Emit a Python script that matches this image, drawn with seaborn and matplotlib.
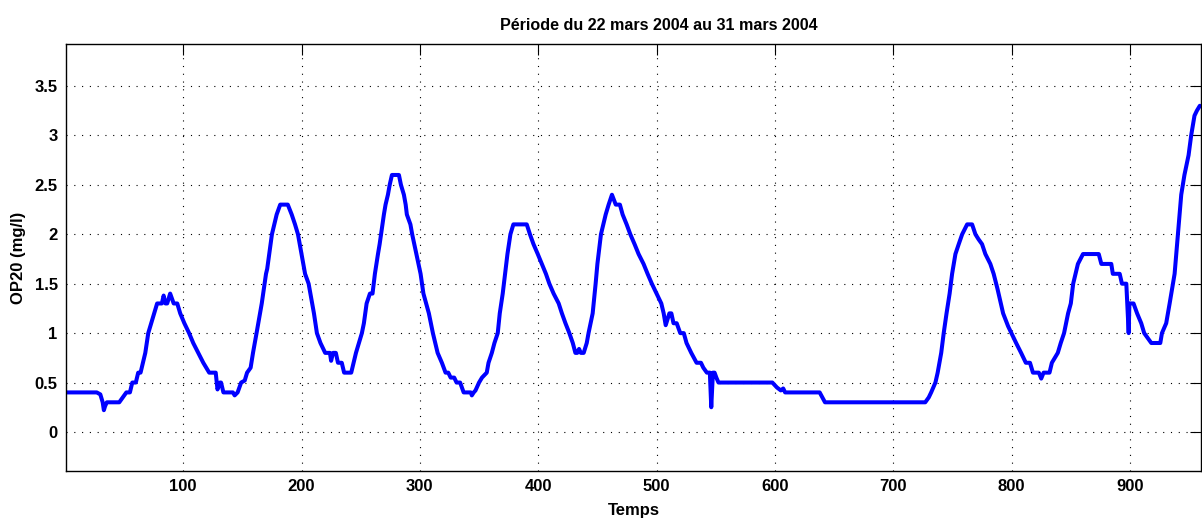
import matplotlib
matplotlib.use("Agg")
import matplotlib.pyplot as plt
import seaborn as sns
import pandas as pd

# Points (time step, OP20 in mg/l)
temps = [1, 27, 30, 32, 33, 34, 35.5, 46, 49, 52, 55, 57, 60, 62, 64, 66, 68, 70.5, 73, 75.5,
         78, 82, 83.5, 85, 86.5, 89, 90.5, 92, 95, 97.5, 101, 105, 108.5, 112.7, 117, 122, 127.5,
         129, 131, 132, 134, 142, 143.5, 146, 149, 152, 154, 157, 159, 162, 166.4, 170, 171, 175,
         179, 182, 188.4, 191.7, 194.5, 197, 200, 203, 206, 210.5, 213, 216, 220, 224, 225, 226.6,
         229, 230.8, 234, 236, 242, 244, 246, 248.5, 251, 252.7, 255, 257.8, 260, 262, 264.6, 266,
         269.6, 271, 273, 274.5, 276.4, 282.3, 284, 286.5, 288, 289, 292, 293.5, 300.6, 303, 307.6,
         311, 313, 315, 318.6, 321.7, 324, 326, 329, 331, 334, 335.5, 337, 343, 343.9, 345.5, 347,
         350, 352.5, 356.5, 358, 360.8, 363, 365.8, 367.5, 370, 372, 374, 376.5, 379, 390.3, 393,
         396, 399.6, 403, 406.5, 409.4, 413, 417.3, 420, 423, 426.3, 429.2, 431.4, 433, 434.5, 436,
         438.4, 441, 442.5, 446, 448.5, 450, 453, 457, 459.5, 462.3, 465.5, 469, 471.3, 474.7,
         477.8, 481.4, 484.8, 489, 492.4, 496, 500, 504, 506, 507.7, 510.8, 512.5, 514.3, 517, 520,
         523, 525.3, 529.3, 533.8, 537.5, 539.5, 542.5, 545, 546.2, 547.6, 549, 550.5, 552.3,
         597.8, 601.7, 605, 607, 608.6, 637.8, 642.3, 727, 730, 732, 735.6, 737.5, 739, 740.5,
         742.6, 745, 747.6, 749.7, 752.5, 755.3, 758.2, 762.4, 766.6, 769.4, 772, 775, 777.8, 782,
         784.8, 788, 792.8, 797, 799.8, 803.8, 808, 812, 815.5, 818, 823, 825, 827, 832, 834, 839,
         841.5, 844.3, 847.7, 850, 852, 854, 856, 860.3, 873.6, 875.8, 884.2, 885.5, 891.3, 893.2,
         896.9, 898.9, 899.5, 903, 906, 909.5, 912, 915, 918, 925.6, 927, 930.6, 933.5, 937.7,
         940.5, 943.3, 946, 949.5, 951.7, 954.5, 956.5, 959]
op20 = [0.4, 0.4, 0.38, 0.3, 0.22, 0.26, 0.3, 0.3, 0.35, 0.4, 0.4, 0.5, 0.5, 0.6, 0.6, 0.7, 0.8, 1.0, 1.1, 1.2,
        1.3, 1.3, 1.38, 1.3, 1.3, 1.4, 1.35, 1.3, 1.3, 1.2, 1.1, 1.0, 0.9, 0.8, 0.7, 0.6, 0.6,
        0.43, 0.5, 0.5, 0.4, 0.4, 0.37, 0.4, 0.5, 0.52, 0.6, 0.65, 0.8, 1.0, 1.3, 1.6, 1.65, 2.0,
        2.2, 2.3, 2.3, 2.2, 2.1, 2.0, 1.8, 1.6, 1.5, 1.2, 1.0, 0.9, 0.8, 0.8, 0.72, 0.8,
        0.8, 0.7, 0.7, 0.6, 0.6, 0.7, 0.8, 0.9, 1.0, 1.1, 1.3, 1.4, 1.4, 1.6, 1.8, 1.9,
        2.2, 2.3, 2.4, 2.5, 2.6, 2.6, 2.5, 2.4, 2.3, 2.2, 2.1, 2.0, 1.6, 1.4, 1.2,
        1.0, 0.9, 0.8, 0.7, 0.6, 0.6, 0.55, 0.55, 0.5, 0.5, 0.45, 0.4, 0.4, 0.37, 0.4, 0.42,
        0.5, 0.55, 0.6, 0.7, 0.8, 0.9, 1.0, 1.2, 1.4, 1.6, 1.8, 2.0, 2.1, 2.1, 2.0,
        1.9, 1.8, 1.7, 1.6, 1.5, 1.4, 1.3, 1.2, 1.1, 1.0, 0.9, 0.8, 0.8, 0.84, 0.8,
        0.8, 0.9, 1.0, 1.2, 1.5, 1.7, 2.0, 2.2, 2.3, 2.4, 2.3, 2.3, 2.2, 2.1,
        2.0, 1.9, 1.8, 1.7, 1.6, 1.5, 1.4, 1.3, 1.2, 1.08, 1.2, 1.2, 1.1, 1.1, 1.0,
        1.0, 0.9, 0.8, 0.7, 0.7, 0.65, 0.6, 0.6, 0.25, 0.6, 0.6, 0.55, 0.5,
        0.5, 0.45, 0.42, 0.44, 0.4, 0.4, 0.3, 0.3, 0.35, 0.4, 0.5, 0.6, 0.7, 0.8,
        1.0, 1.2, 1.4, 1.6, 1.8, 1.9, 2.0, 2.1, 2.1, 2.0, 1.95, 1.9, 1.8, 1.7,
        1.6, 1.45, 1.2, 1.07, 1.0, 0.9, 0.8, 0.7, 0.7, 0.6, 0.6, 0.54, 0.6, 0.6, 0.7, 0.8,
        0.9, 1.0, 1.2, 1.3, 1.5, 1.6, 1.7, 1.8, 1.8, 1.7, 1.7, 1.6, 1.6, 1.5,
        1.5, 1.0, 1.3, 1.3, 1.2, 1.1, 1.0, 0.95, 0.9, 0.9, 1.0, 1.1, 1.3, 1.6,
        2.0, 2.4, 2.6, 2.8, 3.0, 3.2, 3.25, 3.3]

xticks = [100, 200, 300, 400, 500, 600, 700, 800, 900]
yticks = [0, 0.5, 1, 1.5, 2, 2.5, 3, 3.5]
ytick_labels = ["0", "0.5", "1", "1.5", "2", "2.5", "3", "3.5"]

df = pd.DataFrame({"Temps": temps, "OP20": op20})

sns.set_style("white")
plt.rcParams["font.family"] = ["Liberation Sans", "DejaVu Sans"]
plt.rcParams["font.weight"] = "bold"
plt.rcParams["text.color"] = "black"
plt.rcParams["axes.labelcolor"] = "black"

fig = plt.figure(figsize=(12.02, 5.21), dpi=100)
ax = fig.add_axes([66 / 1202, 50 / 521, 1135 / 1202, 427 / 521])

sns.lineplot(data=df, x="Temps", y="OP20", ax=ax, color="#0000ff", linewidth=2.9,
             estimator=None, sort=False)

ax.set_xlim(1, 960)
ax.set_ylim(-0.395, 3.925)
ax.set_xticks(xticks)
ax.set_yticks(yticks)
ax.set_yticklabels(ytick_labels)
ax.grid(True, color="black", linestyle=(0, (1, 6)), linewidth=0.8)

for s in ax.spines.values():
    s.set_visible(True)
    s.set_color("black")
    s.set_linewidth(1.0)

ax.tick_params(direction="in", length=8, width=0.8, top=True, right=True,
               labelsize=12, pad=6, colors="black")
for lab in ax.get_xticklabels() + ax.get_yticklabels():
    lab.set_fontweight("bold")
    lab.set_color("black")

ax.set_xlabel("Temps", fontsize=12, fontweight="bold", labelpad=6, color="black")
ax.set_ylabel("OP20 (mg/l)", fontsize=12, fontweight="bold", labelpad=6, color="black")
fig.text(659 / 1202, 1 - 25 / 521, "Période du 22 mars 2004 au 31 mars 2004",
         fontsize=11.6, fontweight="bold", color="black", ha="center", va="center")

fig.savefig("out.png", dpi=100)
